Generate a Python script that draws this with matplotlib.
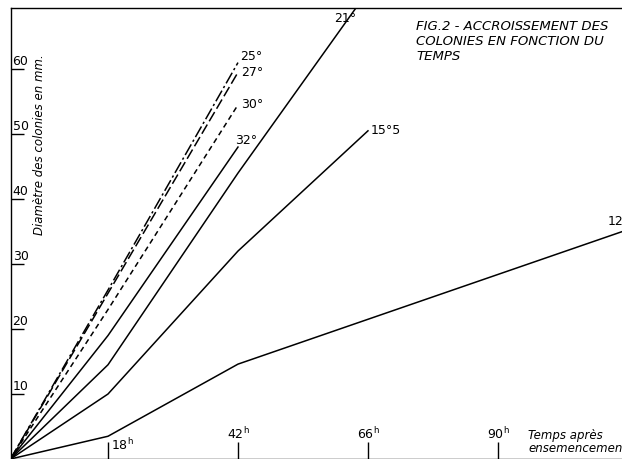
import matplotlib
matplotlib.use('Agg')
import matplotlib.pyplot as plt

plt.rcParams['font.family'] = ['Liberation Sans Narrow', 'DejaVu Sans']
plt.rcParams['mathtext.fontset'] = 'dejavusans'

# courbes (heures, diametre en mm)
heures_courtes = [0, 18, 42]
d_25 = [0, 26, 61]
d_27 = [0, 25.5, 59.5]
d_30 = [0, 23, 54.5]
d_32 = [0, 19, 48]

heures_21 = [0, 18, 42, 66]
d_21 = [0, 14.5, 44, 72]

heures_155 = [0, 18, 42, 66]
d_155 = [0, 10, 32, 50.5]

heures_12 = [0, 18, 42, 114]
d_12 = [0, 3.5, 14.6, 35.3]

xticks = [18, 42, 66, 90]
yticks = [10, 20, 30, 40, 50, 60]

fig = plt.figure(figsize=(6.22, 4.59), dpi=100)
ax = fig.add_axes([10.5 / 622, 0.0, 611.5 / 622, 451 / 459])
ax.set_xlim(0, 112.9)
ax.set_ylim(0, 69.4)

lw = 1.1
ax.plot(heures_courtes, d_25, color='k', lw=lw, ls=(0, (8, 2, 1.5, 2)))
ax.plot(heures_courtes, d_27, color='k', lw=lw, ls=(0, (7, 2.5)))
ax.plot(heures_courtes, d_30, color='k', lw=lw, ls=(0, (3.5, 2.5)))
ax.plot(heures_courtes, d_32, color='k', lw=lw)
ax.plot(heures_21, d_21, color='k', lw=lw)
ax.plot(heures_155, d_155, color='k', lw=lw)
ax.plot(heures_12, d_12, color='k', lw=lw)

# etiquettes des courbes
fs = 9
ax.annotate('25°', (42, 61), xytext=(1.5, 0), textcoords='offset points', fontsize=fs, va='bottom')
ax.annotate('27°', (42, 59.5), xytext=(2.5, 0), textcoords='offset points', fontsize=fs, va='center')
ax.annotate('30°', (42, 54.5), xytext=(2.5, 0), textcoords='offset points', fontsize=fs, va='center')
ax.annotate('32°', (42, 48), xytext=(-2, 0), textcoords='offset points', fontsize=fs, va='bottom')
ax.text(59.8, 66.8, '21°', fontsize=fs, va='bottom')
ax.annotate('15°5', (66, 50.5), xytext=(2, 0), textcoords='offset points', fontsize=fs, va='center')
ax.text(110.2, 35.5, '12', fontsize=fs, va='bottom', clip_on=False)

# axes
ax.spines['right'].set_visible(False)
for s in ['left', 'top', 'bottom']:
    ax.spines[s].set_linewidth(1.0)

ax.set_yticks(yticks)
ax.set_yticklabels([])
ax.tick_params(axis='y', direction='in', length=9, width=1.0)
for v in yticks:
    ax.annotate(str(v), (0, v), xytext=(1.5, 0.5), textcoords='offset points',
                fontsize=fs, va='bottom', ha='left')

ax.set_xticks(xticks)
ax.set_xticklabels([])
ax.tick_params(axis='x', direction='in', length=12, width=1.0)
ax.annotate(r'18$^\mathrm{h}$', (18, 0), xytext=(2, 4), textcoords='offset points',
            fontsize=fs, va='bottom', ha='left')
for v in xticks[1:]:
    ax.annotate(r'%d$^\mathrm{h}$' % v, (v, 0), xytext=(0, 12), textcoords='offset points',
                fontsize=fs, va='bottom', ha='center')

ax.text(528 / 622, 1 - 442 / 459, 'Temps après\nensemencement', transform=fig.transFigure,
        fontsize=8.5, style='italic', va='center', ha='left', linespacing=0.95)

ax.text(40 / 622, 1 - 145 / 459, 'Diamètre des colonies en mm.', transform=fig.transFigure,
        fontsize=8.5, style='italic', rotation=90, va='center', ha='center')

ax.text(416 / 622, 1 - 20 / 459, 'FIG.2 - ACCROISSEMENT DES\nCOLONIES EN FONCTION DU\nTEMPS',
        transform=fig.transFigure, fontsize=9.5, style='italic', va='top', ha='left',
        linespacing=1.2)

fig.savefig('out.png', dpi=100)
